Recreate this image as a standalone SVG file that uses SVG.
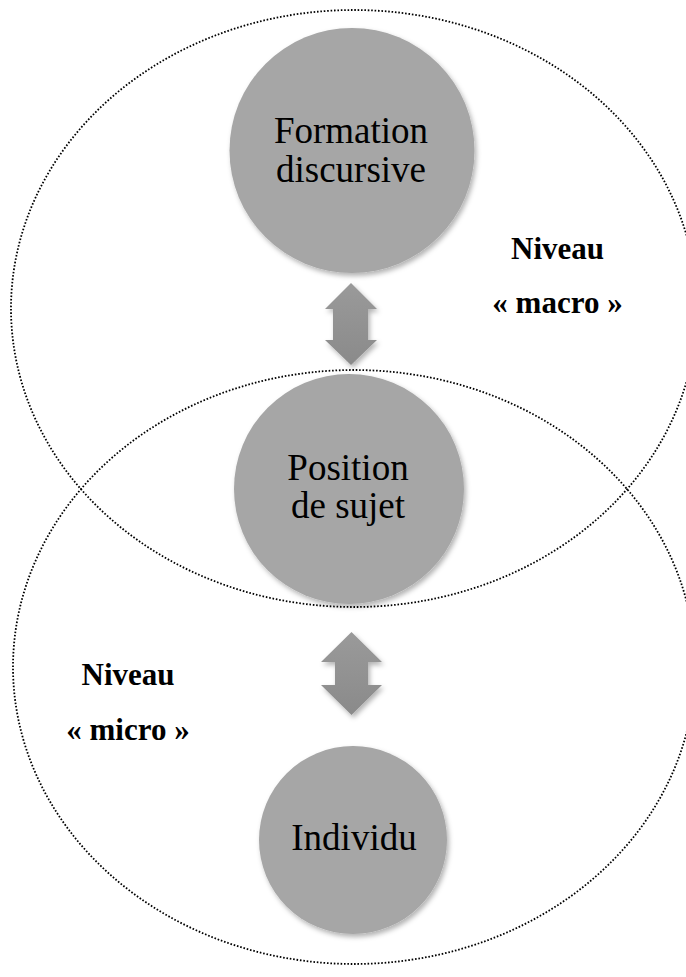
<svg xmlns="http://www.w3.org/2000/svg" width="686" height="977" viewBox="0 0 686 977">
<defs>
<style>
.zone{fill:none;stroke:#000;stroke-width:1.8;stroke-dasharray:1.6 1.8}
.node{fill:#a6a6a6;filter:url(#sh)}
.lbl{font-family:'Liberation Serif','DejaVu Serif',serif;font-size:37px;font-weight:normal;fill:#000;text-anchor:middle}
.lvl{font-family:'Liberation Serif','DejaVu Serif',serif;font-size:31px;font-weight:bold;fill:#000;text-anchor:middle}
.arr{fill:url(#ag);filter:url(#sh)}
</style>
<filter id="sh" x="-20%" y="-20%" width="140%" height="140%">
<feDropShadow dx="2" dy="3" stdDeviation="2.5" flood-color="#000" flood-opacity="0.3"/>
</filter>
<linearGradient id="ag" x1="0" y1="0" x2="0" y2="1">
<stop offset="0" stop-color="#9a9a9a"/>
<stop offset="1" stop-color="#8a8a8a"/>
</linearGradient>
</defs>
<rect width="686" height="977" fill="#fff"/>
<g id="zone-macro"><ellipse class="zone" cx="354" cy="308.5" rx="343" ry="298.5"/></g>
<g id="zone-micro"><ellipse class="zone" cx="354" cy="667" rx="341" ry="297"/></g>
<g id="connectors">
<path class="arr" d="M351,283 L377,309 L368,309 L368,340 L377,340 L351,365 L325,340 L333,340 L333,309 L325,309 Z"/>
<path class="arr" d="M351.5,632 L382,662 L368,662 L368,685 L382,685 L351.5,715 L321,685 L335,685 L335,662 L321,662 Z"/>
</g>
<g id="node-formation">
<circle class="node" cx="352" cy="150.5" r="122.5"/>
<text class="lbl" x="351" y="143">Formation</text>
<text class="lbl" x="351" y="182">discursive</text>
</g>
<g id="node-position">
<circle class="node" cx="349" cy="489" r="115"/>
<text class="lbl" x="348" y="480">Position</text>
<text class="lbl" x="348" y="518">de sujet</text>
</g>
<g id="node-individu">
<circle class="node" cx="353" cy="840" r="94"/>
<text class="lbl" x="354" y="850">Individu</text>
</g>
<g id="label-macro">
<text class="lvl" x="557.5" y="259">Niveau</text>
<text class="lvl" x="557.5" y="313">« macro »</text>
</g>
<g id="label-micro">
<text class="lvl" x="128" y="685">Niveau</text>
<text class="lvl" x="128" y="740">« micro »</text>
</g>
</svg>
